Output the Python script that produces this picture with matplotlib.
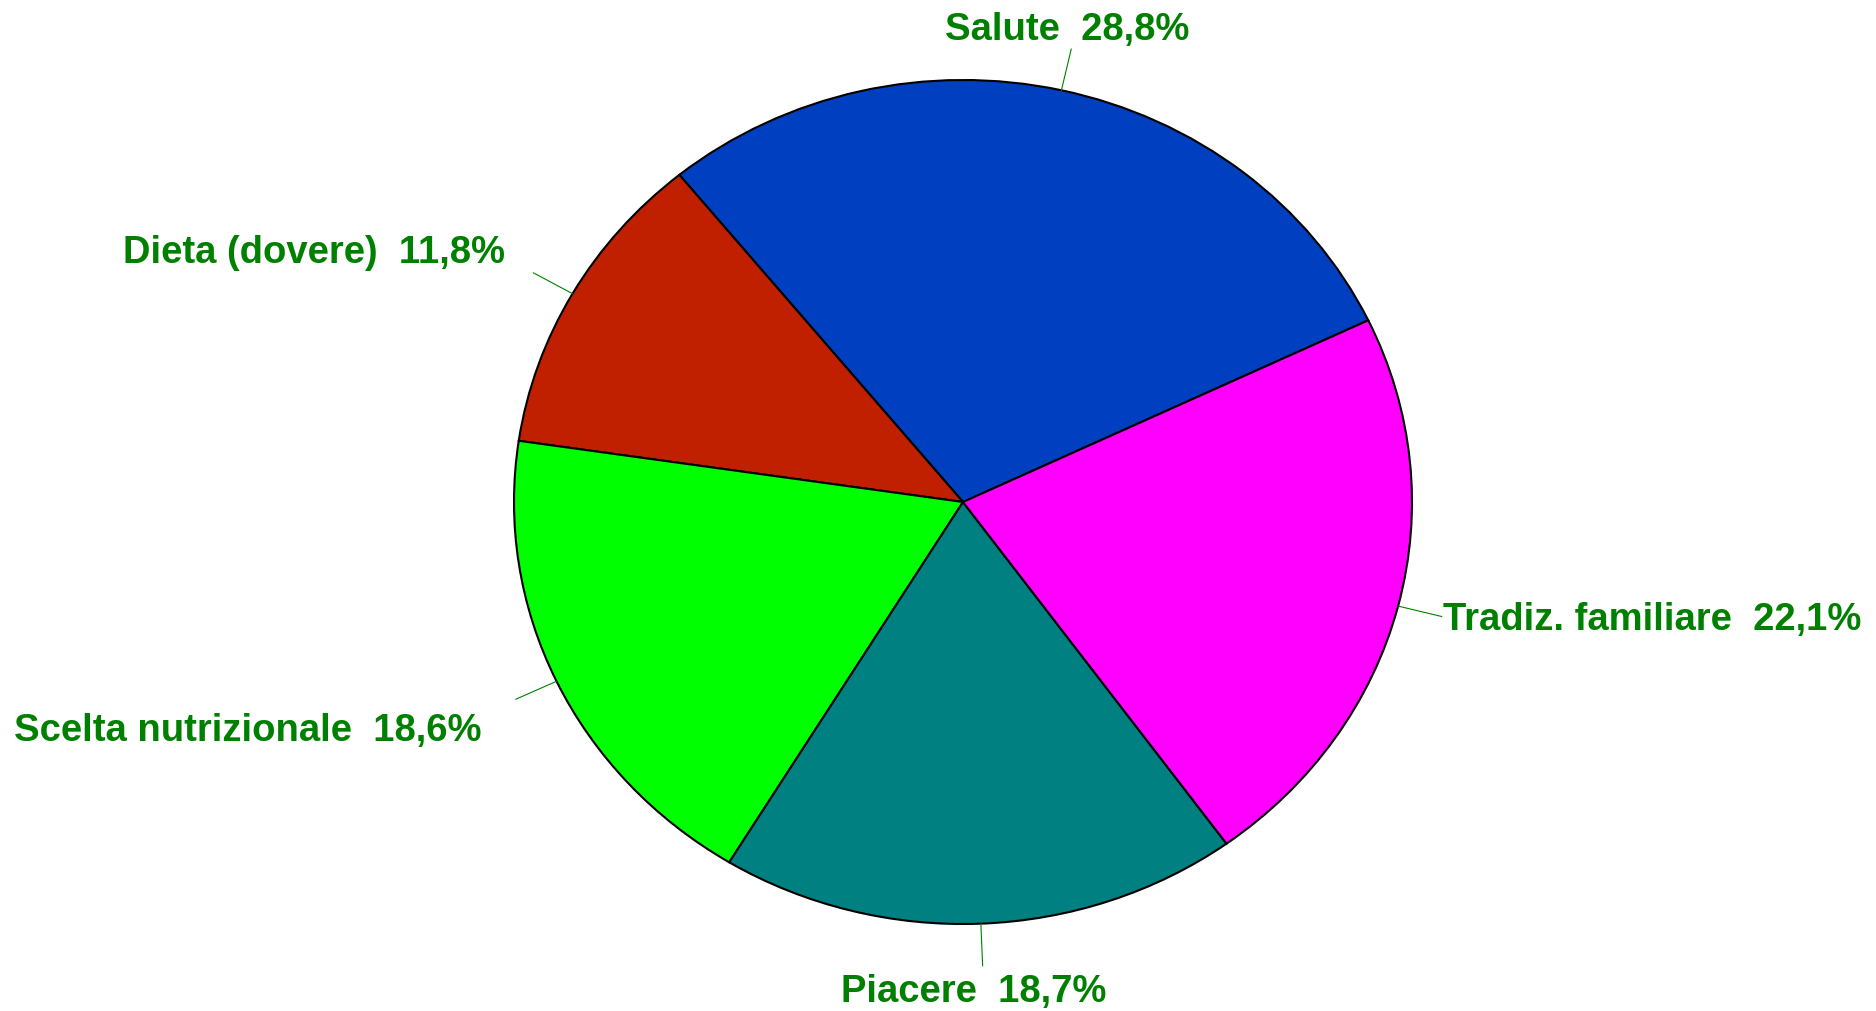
import numpy as np
import matplotlib
matplotlib.use("Agg")
import matplotlib.pyplot as plt

# Dati
categorie = ["Salute", "Dieta (dovere)", "Scelta nutrizionale", "Piacere", "Tradiz. familiare"]
valori = [28.8, 11.8, 18.6, 18.7, 22.1]
colori = ["#0040C0", "#C02000", "#00FF00", "#008080", "#FF00FF"]

# spostamento etichette (pixel) rispetto alla fine della linea guida
offset = [(-4, 9), (-28, 10), (-34, -42), (-9, -36), (1, -14)]
allinea = ["center", "right", "right", "center", "left"]

W, H = 1876, 1011
cx, cy = 963, 509      # centro (dal basso)
rx, ry = 449, 422      # semiassi in pixel

fig = plt.figure(figsize=(W / 100, H / 100), dpi=100)
ax = fig.add_axes([0, 0, 1, 1])

start = 25.5
wedges, _ = ax.pie(valori, colors=colori, startangle=start, counterclock=True,
                   radius=1, wedgeprops=dict(edgecolor="black", linewidth=1.5))
ax.set_aspect("auto")
ax.set_xlim(-cx / rx, (W - cx) / rx)
ax.set_ylim(-cy / ry, (H - cy) / ry)
ax.axis("off")

verde = "#008000"
ang = start
for nome, v, off, ha in zip(categorie, valori, offset, allinea):
    mid = np.deg2rad(ang + v * 3.6 / 2)
    ang += v * 3.6
    x0, y0 = np.cos(mid), np.sin(mid)
    x1, y1 = 1.1 * x0, 1.1 * y0
    ax.plot([x0, x1], [y0, y1], color=verde, lw=0.8)
    perc = f"{v:.1f}".replace(".", ",")
    testo = f"{nome}  {perc}%"
    ax.annotate(testo, (x1, y1), xytext=off, textcoords="offset pixels",
                ha=ha, va="baseline", color=verde, fontsize=27.5,
                fontweight="bold", family="Liberation Sans")

fig.savefig("out.png", dpi=100)
